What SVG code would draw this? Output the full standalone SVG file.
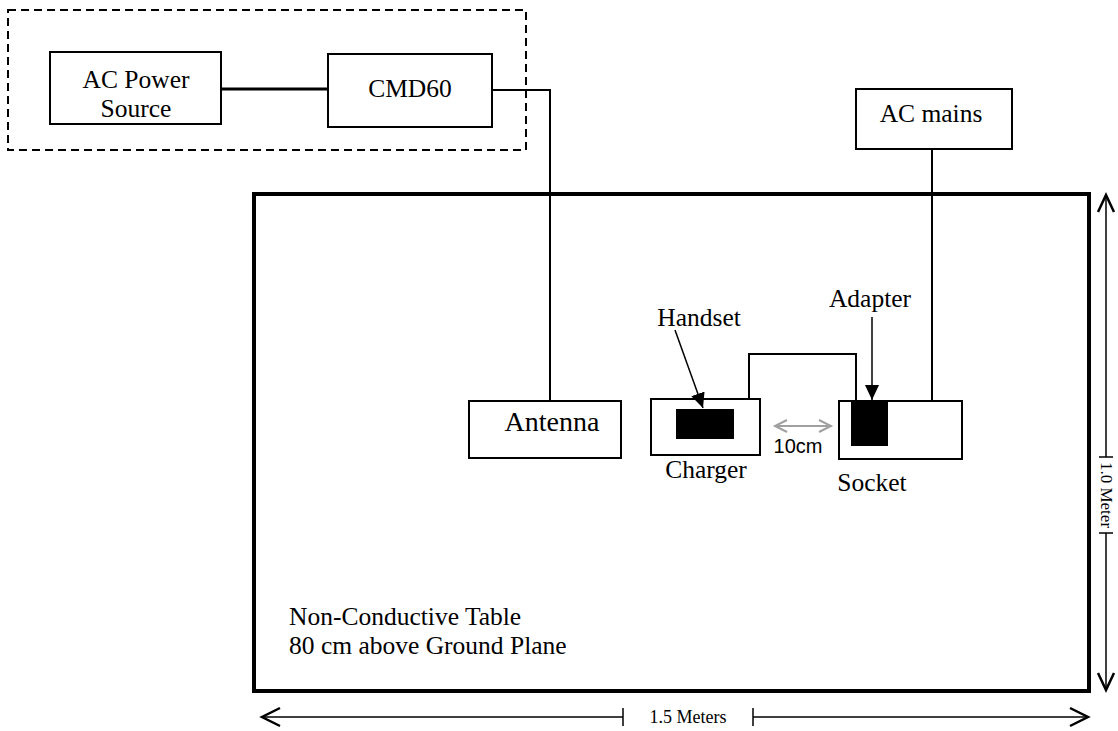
<svg xmlns="http://www.w3.org/2000/svg" width="1118" height="731" viewBox="0 0 1118 731">
<defs>
<style>
.box{fill:#fff;stroke:#000;stroke-width:2}
.t{font-family:"Liberation Serif","Times New Roman",serif;font-size:25.5px;fill:#000}
.ln{fill:none;stroke:#000;stroke-width:2}
.dim{fill:none;stroke:#000;stroke-width:1.5}
.chev{fill:none;stroke:#000;stroke-width:2.5}
.blk{fill:#000}
</style>
<marker id="tri" markerWidth="16" markerHeight="16" refX="15" refY="7" orient="auto" markerUnits="userSpaceOnUse">
<path d="M0,0 L15,7 L0,14 Z" fill="#000"/>
</marker>
</defs>
<rect width="1118" height="731" fill="#fff"/>

<g id="test-equipment">
<rect x="8" y="10" width="518" height="140" fill="none" stroke="#000" stroke-width="2" stroke-dasharray="8,5"/>
</g>
<g id="ac-power-source">
<rect class="box" x="50" y="52" width="171" height="72"/>
<text class="t" x="136" y="88" text-anchor="middle">AC Power</text>
<text class="t" x="136" y="117" text-anchor="middle">Source</text>
</g>
<g id="cmd60">
<rect class="box" x="328" y="54" width="164" height="73"/>
<text class="t" x="410" y="97" text-anchor="middle">CMD60</text>
</g>
<g id="table">
<rect x="254" y="194" width="835" height="497" fill="none" stroke="#000" stroke-width="4"/>
<text class="t" x="289" y="625">Non-Conductive Table</text>
<text class="t" x="289" y="654">80 cm above Ground Plane</text>
</g>
<g id="ac-mains">
<rect class="box" x="856" y="89" width="156" height="60"/>
<text class="t" x="931" y="122" text-anchor="middle">AC mains</text>
</g>
<g id="antenna">
<rect class="box" x="469" y="401" width="152" height="57"/>
<text class="t" x="552" y="431" text-anchor="middle" style="font-size:28px">Antenna</text>
</g>
<g id="charger">
<rect class="box" x="651" y="399" width="109" height="56"/>
<rect class="blk" x="676" y="409" width="58" height="30"/>
<text class="t" x="706" y="478" text-anchor="middle">Charger</text>
</g>
<g id="handset-label">
<text class="t" x="699" y="326" text-anchor="middle">Handset</text>
</g>
<g id="socket">
<rect class="box" x="839" y="401" width="123" height="58"/>
<rect class="blk" x="851" y="401" width="37" height="45"/>
<text class="t" x="872" y="491" text-anchor="middle">Socket</text>
</g>
<g id="adapter-label">
<text class="t" x="870" y="307" text-anchor="middle">Adapter</text>
</g>

<g id="connectors">
<line x1="221" y1="89" x2="328" y2="89" stroke="#000" stroke-width="3"/>
<polyline class="ln" points="492,90 550,90 550,401"/>
<line class="ln" x1="932" y1="149" x2="932" y2="401"/>
<polyline class="ln" points="749,399 749,354 856,354 856,401"/>
<line x1="675" y1="330" x2="703" y2="408" stroke="#000" stroke-width="1.5" marker-end="url(#tri)"/>
<line x1="872" y1="317" x2="872" y2="400" stroke="#000" stroke-width="1.5" marker-end="url(#tri)"/>
<line x1="775" y1="426" x2="831" y2="426" stroke="#a0a0a0" stroke-width="2"/>
<polyline points="787,420 775,426 787,432" fill="none" stroke="#a0a0a0" stroke-width="2"/>
<polyline points="819,420 831,426 819,432" fill="none" stroke="#a0a0a0" stroke-width="2"/>
<text x="798" y="453" text-anchor="middle" style="font-family:'Liberation Sans',Arial,sans-serif;font-size:20px">10cm</text>
</g>

<g id="dimension-width">
<line class="dim" x1="262" y1="717" x2="623" y2="717"/>
<line class="dim" x1="753" y1="717" x2="1088" y2="717"/>
<line class="dim" x1="623" y1="708" x2="623" y2="726"/>
<line class="dim" x1="753" y1="708" x2="753" y2="726"/>
<polyline class="chev" points="280,708 262,717 280,726"/>
<polyline class="chev" points="1070,708 1088,717 1070,726"/>
<text x="688" y="723" text-anchor="middle" style="font-family:'Liberation Serif','Times New Roman',serif;font-size:18px">1.5 Meters</text>
</g>
<g id="dimension-height">
<line class="dim" x1="1106" y1="195" x2="1106" y2="457"/>
<line class="dim" x1="1106" y1="533" x2="1106" y2="690"/>
<line class="dim" x1="1099" y1="457" x2="1113" y2="457"/>
<line class="dim" x1="1099" y1="533" x2="1113" y2="533"/>
<polyline class="chev" points="1098,212 1106,195 1114,212"/>
<polyline class="chev" points="1098,673 1106,690 1114,673"/>
<text transform="translate(1101,495) rotate(90)" text-anchor="middle" style="font-family:'Liberation Serif','Times New Roman',serif;font-size:17px">1.0 Meter</text>
</g>
</svg>
